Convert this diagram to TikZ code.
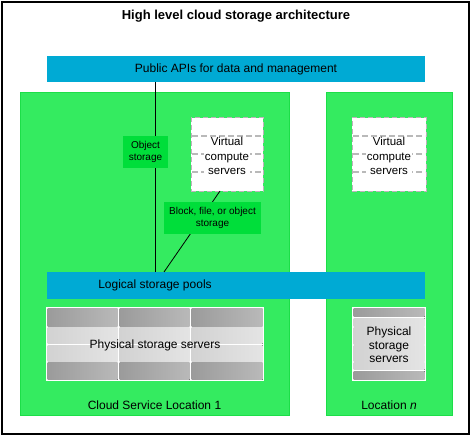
\documentclass[tikz,border=0pt]{standalone}
\usepackage{fontspec}
\setmainfont{Liberation Sans}
\definecolor{lgreen}{RGB}{52,235,96}
\definecolor{lgreenb}{RGB}{28,222,72}
\definecolor{dgreen}{RGB}{0,222,58}
\definecolor{apiblue}{RGB}{0,170,212}
\definecolor{dashc}{RGB}{192,178,188}
\definecolor{vlinec}{RGB}{185,185,185}
\definecolor{cdarkA}{RGB}{155,155,155}
\definecolor{cdarkB}{RGB}{185,185,185}
\definecolor{clightA}{RGB}{210,210,210}
\definecolor{clightB}{RGB}{228,228,228}
\tikzset{
  loc/.style={draw=lgreenb, fill=lgreen, line width=0.8pt, inner sep=0pt, outer sep=0pt},
  bar/.style={fill=apiblue, inner sep=0pt, outer sep=0pt},
  tag/.style={fill=dgreen, inner sep=0pt, outer sep=0pt, align=center, font=\fontsize{10}{12}\selectfont},
  vbox/.style={draw=dashc, dashed, dash pattern=on 5pt off 3pt, line width=1pt, fill=white, inner sep=0pt, outer sep=0pt},
  vline/.style={draw=vlinec, dash pattern=on 6pt off 3pt, line width=1.3pt},
  txt/.style={font=\fontsize{12}{14}\selectfont, align=center, inner sep=0.5pt},
  celld/.style={left color=cdarkA, right color=cdarkB},
  celll/.style={left color=clightA, right color=clightB},
  conn/.style={draw=black, line width=0.8pt}
}
\begin{document}
\begin{tikzpicture}[x=1pt, y=-1pt]
\useasboundingbox (0,0) rectangle (472,436);
\draw[line width=1.3pt] (2,2) rectangle (469,434);
% title
\node[font=\bfseries\fontsize{13}{15}\selectfont] (title) at (236,16) {High level cloud storage architecture};
% locations
\node[loc, minimum width=269pt, minimum height=323pt] (loc1) at (154.5,253.5) {};
\node[loc, minimum width=126pt, minimum height=323pt] (locn) at (389,253.5) {};
% API bar
\node[bar, minimum width=378pt, minimum height=26pt] (api) at (236,69) {};
\node[txt] (apitxt) at (236,69) {Public APIs for data and management};
% pool bar
\node[bar, minimum width=378pt, minimum height=27pt] (pool) at (236,285.5) {};
\node[txt] (pooltxt) at (155,285.5) {Logical storage pools};
% virtual compute servers
\node[vbox, minimum width=72pt, minimum height=73pt] (vcs1) at (227,154.5) {};
\foreach \yy in {136,154,172} \draw[vline] ([xshift=1pt]vcs1.west |- 0,\yy) -- ([xshift=-1pt]vcs1.east |- 0,\yy);
\node[txt, fill=white, font=\fontsize{11.5}{14.5}\selectfont] (vcs1t) at (227,156) {Virtual\\compute\\servers};
\node[vbox, minimum width=74pt, minimum height=73pt] (vcs2) at (389,154.5) {};
\foreach \yy in {136,154,172} \draw[vline] ([xshift=1pt]vcs2.west |- 0,\yy) -- ([xshift=-1pt]vcs2.east |- 0,\yy);
\node[txt, fill=white, font=\fontsize{11.5}{14.5}\selectfont] (vcs2t) at (389,156) {Virtual\\compute\\servers};
% connectors
\draw[conn] (api.south -| 155,0) -- (pool.north -| 155,0);
\draw[conn] ([xshift=-7pt]vcs1.south) -- (pool.north -| 164,0);
% tags
\node[tag, minimum width=45pt, minimum height=32pt] (obj) at (145.5,152) {Object\\storage};
\node[tag, minimum width=97pt, minimum height=32pt] (blk) at (212.5,218) {Block, file, or object\\storage};
% physical storage left
\node[fill=white, minimum width=218pt, minimum height=74pt, inner sep=0pt, outer sep=0pt] (phys1) at (155,344) {};
\foreach \xa/\xb in {47.5/117.5,119.5/189.5,191.5/262.5} {
  \foreach \ya/\yb/\c in {308.5/326/d,327.5/343.5/l,345/361/l,362.5/379.5/d} {
    \fill[cell\c] (\xa,\ya) rectangle (\xb,\yb);
  }
}
\node[txt] (phys1t) at (155,345) {Physical storage servers};
% physical storage right
\node[fill=white, minimum width=74pt, minimum height=74pt, inner sep=0pt, outer sep=0pt] (phys2) at (389,344) {};
\foreach \ya/\yb/\c in {308.5/316.5/d,318/326/l,327.5/344/l,345.5/361/l,362.5/369.5/l,371/379/d} {
  \fill[cell\c] (353.5,\ya) rectangle (424.5,\yb);
}
\node[txt, font=\fontsize{12}{13.5}\selectfont] (phys2t) at (389,345) {Physical\\storage\\servers};
% location labels
\node[txt] (loc1t) at (154.5,405) {Cloud Service Location 1};
\node[txt] (locnt) at (389,405) {Location \textit{n}};
\end{tikzpicture}
\end{document}
